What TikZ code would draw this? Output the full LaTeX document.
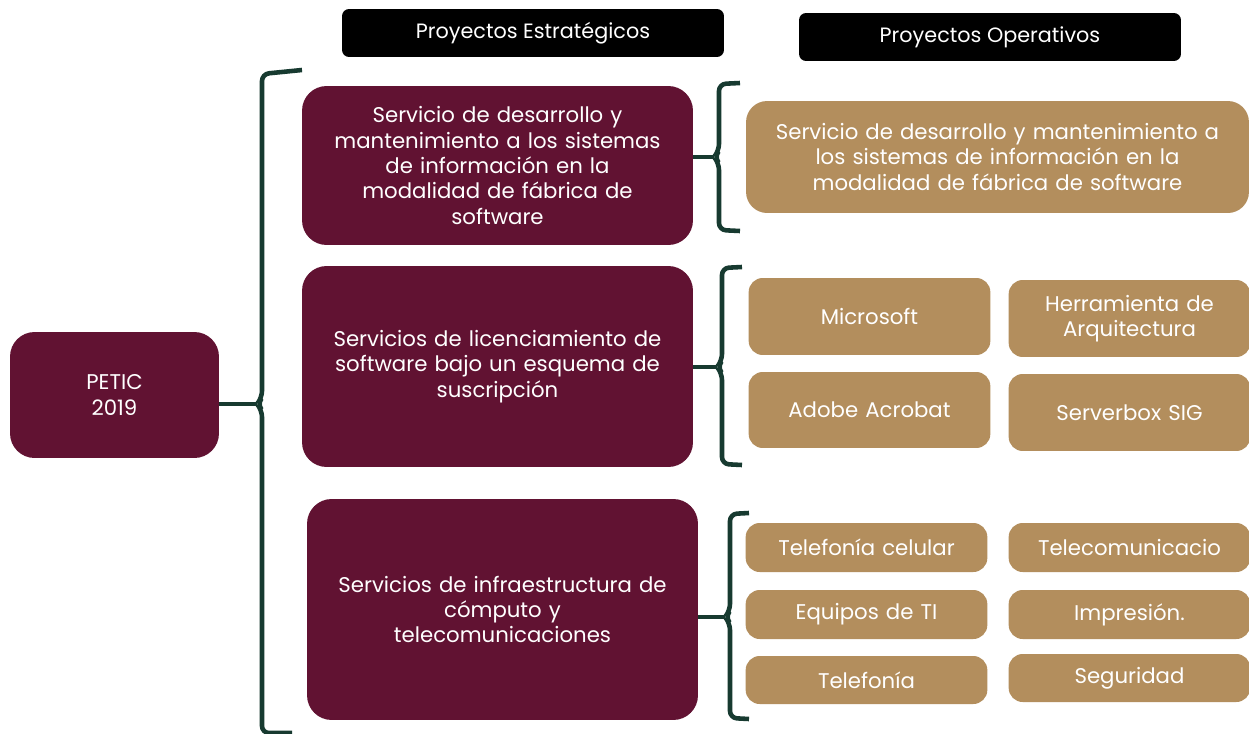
\documentclass[tikz,border=0pt]{standalone}
\usepackage{fontspec}
\setmainfont{Poppins}
\definecolor{guinda}{HTML}{611232}
\definecolor{dorado}{HTML}{B38E5D}
\definecolor{verdeos}{HTML}{173A30}

\begin{document}
\begin{tikzpicture}[x=0.02cm, y=-0.02cm,
  encab/.style={fill=black, text=white, rounded corners=4pt, minimum width=7.64cm, minimum height=0.96cm, font=\fontsize{11.8}{14}\selectfont},
  estrat/.style={fill=guinda, text=white, rounded corners=14pt, minimum width=7.82cm, text width=7.1cm, align=center, font=\fontsize{12.1}{14.4}\selectfont},
  operat/.style={fill=dorado, text=white, rounded corners=8pt, minimum width=4.8cm, text width=4.6cm, align=center, font=\fontsize{12.1}{14.4}\selectfont},
  llave/.style={draw=verdeos, line width=2.6pt, rounded corners=4pt}]
\fill[white] (0,0) rectangle (1249,734);
\useasboundingbox (0,0) rectangle (1249,734);
\node[encab] (hdrE) at (533,33) {Proyectos Estratégicos};
\node[encab] (hdrO) at (990,37) {Proyectos Operativos};
\node[estrat, minimum width=4.18cm, minimum height=2.52cm, text width=3.6cm] (petic) at (114.5,395) {PETIC\\2019};
\node[estrat, minimum height=3.18cm] (est1) at (497.5,165.5) {Servicio de desarrollo y\\mantenimiento a los sistemas\\de información en la\\modalidad de fábrica de\\software};
\node[estrat, minimum height=4.02cm] (est2) at (497.5,366.5) {Servicios de licenciamiento de\\software bajo un esquema de\\suscripción};
\node[estrat, minimum height=4.42cm] (est3) at (502.5,609.5) {Servicios de infraestructura de\\cómputo y\\telecomunicaciones};
\node[operat, minimum width=10.06cm, minimum height=2.24cm, text width=9.8cm, rounded corners=12pt] (op1) at (997.5,157) {Servicio de desarrollo y mantenimiento a\\los sistemas de información en la\\modalidad de fábrica de software};
\node[operat, minimum width=4.82cm, minimum height=1.54cm] (micro) at (869.5,316.5) {Microsoft};
\node[operat, minimum width=4.78cm, minimum height=1.54cm] (herr) at (1129.5,318.5) {Herramienta de\\Arquitectura};
\node[operat, minimum width=4.82cm, minimum height=1.52cm] (adobe) at (869.5,410) {Adobe Acrobat};
\node[operat, minimum width=4.78cm, minimum height=1.54cm] (server) at (1129.5,412.5) {Serverbox SIG};
\node[operat, minimum width=4.82cm, minimum height=0.98cm] (telcel) at (866.5,547.5) {Telefonía celular};
\node[operat, minimum width=4.78cm, minimum height=0.98cm] (telecom) at (1129.5,547.5) {Telecomunicacio};
\node[operat, minimum width=4.82cm, minimum height=0.98cm] (equipos) at (866.5,614.5) {Equipos de TI};
\node[operat, minimum width=4.78cm, minimum height=0.98cm] (impre) at (1129.5,614.5) {Impresión.};
\node[operat, minimum width=4.82cm, minimum height=0.96cm] (telef) at (866.5,680) {Telefonía};
\node[operat, minimum width=4.78cm, minimum height=0.96cm] (segur) at (1129.5,678) {Seguridad};
\coordinate (tipP) at (257,404);
\coordinate (tip1) at (714,157);
\coordinate (tip2) at (717,367);
\coordinate (tip3) at (725,617);
\draw[llave] (302,70) -- (262,74) -- (262,398) -- (tipP) -- (262,410) -- (262,733) -- (292,733);
\draw[llave] (740,83) -- (719,84) -- (719,151) -- (tip1) -- (719,163) -- (719,230) -- (740,231);
\draw[llave] (742,267) -- (722,268) -- (722,361) -- (tip2) -- (722,373) -- (722,464) -- (742,465);
\draw[llave] (749,513) -- (730,514) -- (730,611) -- (tip3) -- (730,623) -- (730,718) -- (749,719);
\draw[llave] (tipP -| petic.east) -- (tipP);
\draw[llave] (tip1 -| est1.east) -- (tip1);
\draw[llave] (tip2 -| est2.east) -- (tip2);
\draw[llave] (tip3 -| est3.east) -- (tip3);
\end{tikzpicture}
\end{document}
